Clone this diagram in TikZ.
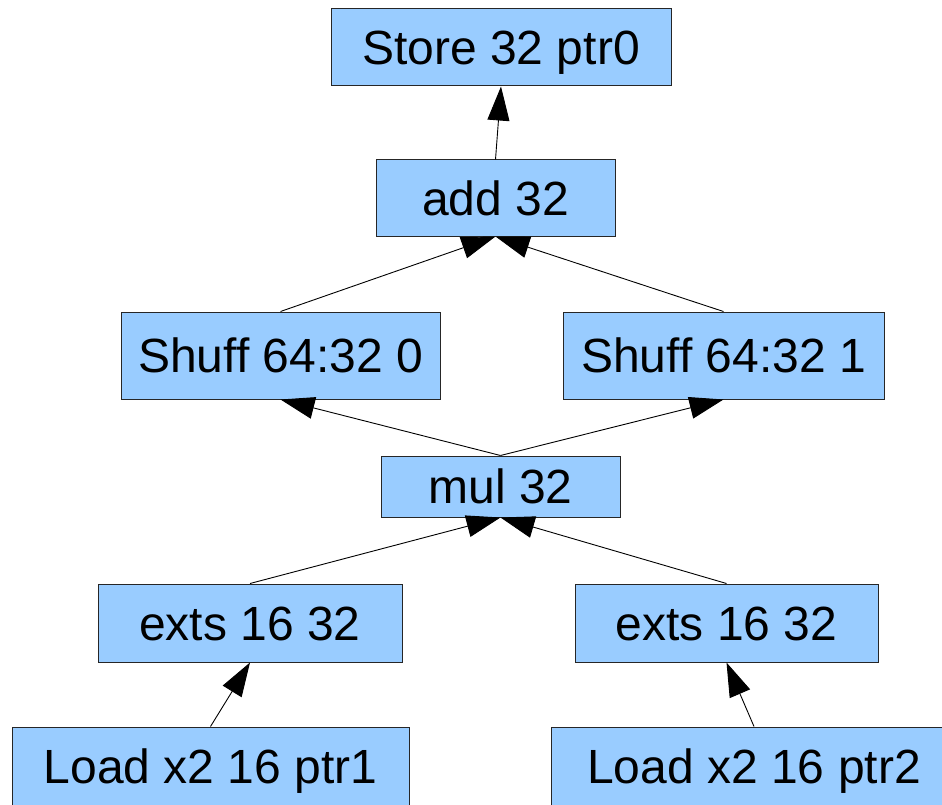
\documentclass[tikz,border=0pt]{standalone}
\usepackage{fontspec}
\setmainfont{Liberation Sans}
\usetikzlibrary{arrows.meta}
\definecolor{boxfill}{HTML}{99CCFF}
\tikzset{
  opbox/.style={draw=black!85, line width=1pt, fill=boxfill, inner sep=0pt,
    font=\fontsize{48}{57}\selectfont, text=black, anchor=center,
    text height=34.5pt, text depth=0pt},
  flow/.style={draw=black, line width=0.9pt,
    -{Triangle[length=34pt,width=22pt]}}
}
\begin{document}
\begin{tikzpicture}[x=1pt,y=-1pt]
\useasboundingbox (0,0) rectangle (942,805);
% operation boxes, top to bottom
\node[opbox, minimum width=340pt, minimum height=77pt] (store) at (501,47.5) {Store 32 ptr0};
\node[opbox, minimum width=239pt, minimum height=76pt] (add) at (495.5,198) {add 32};
\node[opbox, minimum width=319pt, minimum height=87pt] (sh0) at (280.5,355.5) {Shuff 64:32 0};
\node[opbox, minimum width=321pt, minimum height=87pt] (sh1) at (723.5,355.5) {Shuff 64:32 1};
\node[opbox, minimum width=239pt, minimum height=61pt] (mul) at (500.5,486.5) {mul 32};
\node[opbox, minimum width=304pt, minimum height=78pt] (ex0) at (250,623) {exts 16 32};
\node[opbox, minimum width=303pt, minimum height=78pt] (ex1) at (726.5,623) {exts 16 32};
\node[opbox, minimum width=397pt, minimum height=78pt] (ld0) at (210.5,766) {Load x2 16 ptr1};
\node[opbox, minimum width=406pt, minimum height=78pt] (ld1) at (754,766) {Load x2 16 ptr2};
% data flow, each value feeding its consumer
\draw[flow] (add.north) -- (store.south);
\draw[flow] (sh0.north) -- (add.south);
\draw[flow] (sh1.north) -- (add.south);
\draw[flow] (mul.north) -- (sh0.south);
\draw[flow] (mul.north) -- (sh1.south);
\draw[flow] (ex0.north) -- (mul.south);
\draw[flow] (ex1.north) -- (mul.south);
\draw[flow] (ld0.north) -- (ex0.south);
\draw[flow] (ld1.north) -- (ex1.south);
\end{tikzpicture}
\end{document}
